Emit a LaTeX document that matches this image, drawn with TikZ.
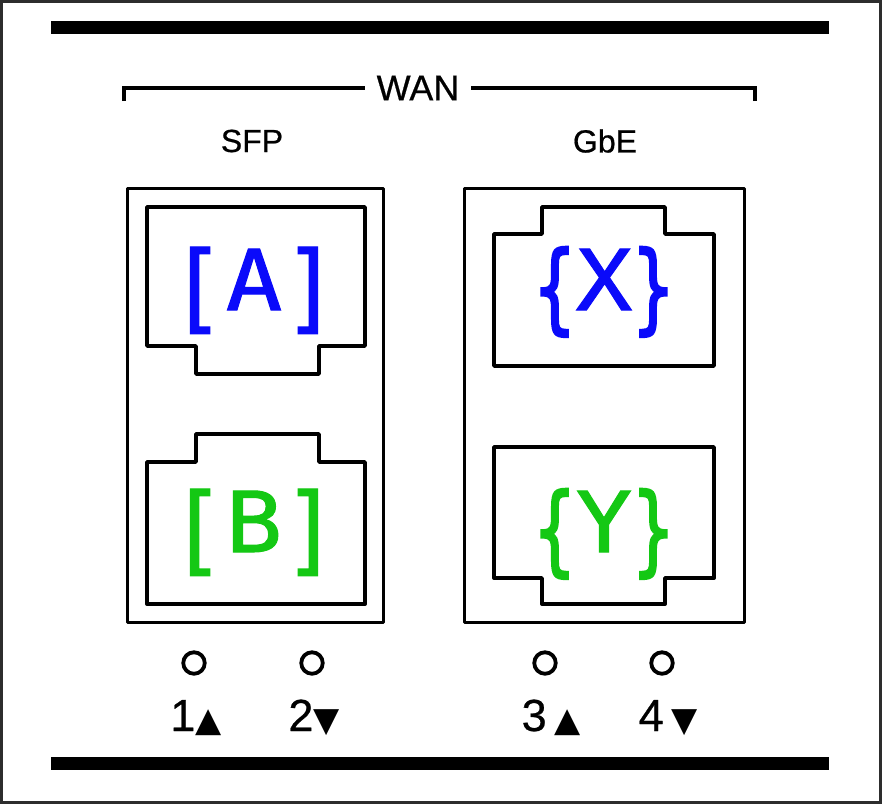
\documentclass[tikz,border=0pt]{standalone}
\usepackage{fontspec}
\setmainfont{Liberation Sans}
\newfontfamily\lblfont{Liberation Sans}[FakeBold=0.6]
\newfontfamily\portfont{DejaVu Sans Mono}[FakeStretch=1.12,FakeBold=1.2]
\newfontfamily\trifont{DejaVu Sans}
\definecolor{portblue}{RGB}{10,10,250}
\definecolor{portgreen}{RGB}{20,200,20}
\definecolor{framegray}{RGB}{45,45,45}
\newcommand{\mybrk}[1]{\raisebox{-11pt}{\scalebox{1}[1.16]{#1}}}
\newcommand{\mybrc}[1]{\raisebox{-11pt}{\scalebox{0.74}[1.16]{\addfontfeature{FakeBold=2.6}#1}}}
\begin{document}
\begin{tikzpicture}[x=1pt,y=-1pt,
  bar/.style={line width=13pt},
  bracketline/.style={line width=3.5pt},
  panel/.style={draw,line width=3pt,line join=round},
  port/.style={draw,line width=3.8pt,line join=round},
  led/.style={draw,line width=3.8pt,circle,minimum size=21.5pt,inner sep=0pt},
  hdr/.style={font=\lblfont\fontsize{32}{34}\selectfont,inner sep=0pt},
  wanlbl/.style={font=\lblfont\fontsize{36}{38}\selectfont,inner sep=0pt},
  portlbl/.style={font=\portfont\fontsize{84}{86}\selectfont,inner sep=0pt,anchor=base},
  ledlbl/.style={font=\lblfont\fontsize{45}{46}\selectfont,inner sep=0pt,anchor=base},
]
\useasboundingbox (0,0) rectangle (882,804);
\fill[white] (0,0) rectangle (882,804);
\draw[framegray,line width=3pt] (1.5,1.5) rectangle (880.5,802.5);

% bars
\coordinate (tbl) at (51,27.5); \coordinate (tbr) at (829,27.5);
\coordinate (bbl) at (51,763.5); \coordinate (bbr) at (829,763.5);
\draw[bar] (tbl) -- (tbr);
\draw[bar] (bbl) -- (bbr);

% WAN bracket
\node[wanlbl] (wan) at (418,88) {WAN};
\coordinate (wl) at (124,101); \coordinate (wr) at (755,101);
\draw[bracketline] (wl) |- ([xshift=-11pt]wan.west);
\draw[bracketline] (wr) |- ([xshift=11pt]wan.east);

% headers
\node[hdr] (sfp) at (252,141) {SFP};
\node[hdr] (gbe) at (605,141) {GbE};

% panels
\draw[panel] (127,188) rectangle (383,622);
\draw[panel] (464,188) rectangle (744,622);

% port A
\draw[port] (147,207) -- (365,207) -- (365,346) -- (319,346) -- (319,374) -- (196,374) -- (196,346) -- (147,346) -- cycle;
\node[portlbl,portblue] (pa) at (254,310) {\mybrk{[}A\mybrk{]}};
% port B
\draw[port] (147,462) -- (196,462) -- (196,434) -- (319,434) -- (319,462) -- (365,462) -- (365,604) -- (147,604) -- cycle;
\node[portlbl,portgreen] (pb) at (254,552) {\mybrk{[}B\mybrk{]}};
% port X
\draw[port] (494,234) -- (542,234) -- (542,207) -- (665,207) -- (665,234) -- (714,234) -- (714,366) -- (494,366) -- cycle;
\node[portlbl,portblue] (px) at (604,310) {\mybrc{\{}X\mybrc{\}}};
% port Y
\draw[port] (494,447) -- (714,447) -- (714,578) -- (665,578) -- (665,604) -- (542,604) -- (542,578) -- (494,578) -- cycle;
\node[portlbl,portgreen] (py) at (604,552) {\mybrc{\{}Y\mybrc{\}}};

% LEDs
\node[led] (l1) at (194,663) {};
\node[led] (l2) at (312,663) {};
\node[led] (l3) at (545,663) {};
\node[led] (l4) at (662,663) {};

\node[ledlbl] (n1) at (196,731) {1{\trifont\fontsize{34}{34}\selectfont ▲}};
\node[ledlbl] (n2) at (314,731) {2{\trifont\fontsize{34}{34}\selectfont ▼}};
\node[ledlbl] (n3) at (551,731) {3\,{\trifont\fontsize{34}{34}\selectfont ▲}};
\node[ledlbl] (n4) at (668,731) {4\,{\trifont\fontsize{34}{34}\selectfont ▼}};
\end{tikzpicture}
\end{document}
